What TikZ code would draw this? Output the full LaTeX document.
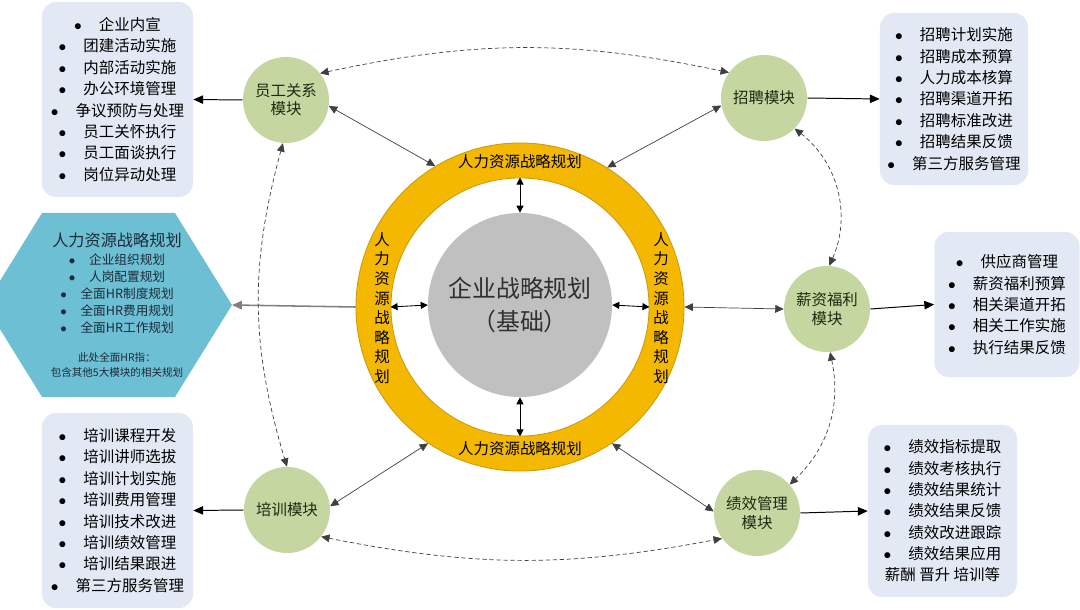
\documentclass[tikz,border=0pt]{standalone}
\usepackage{fontspec}
\setmainfont{Noto Sans CJK SC}
\usetikzlibrary{arrows.meta, positioning}

\definecolor{ringyellow}{HTML}{F5B800}
\definecolor{ringedge}{HTML}{C99A10}
\definecolor{coregray}{HTML}{C0C0C0}
\definecolor{coretext}{HTML}{303030}
\definecolor{modgreen}{HTML}{C6D6A1}
\definecolor{modtext}{HTML}{1E2A10}
\definecolor{boxblue}{HTML}{E3E9F4}
\definecolor{hexblue}{HTML}{6DBFD3}
\definecolor{hextext}{HTML}{1C2B38}
\definecolor{linegray}{HTML}{404040}
\definecolor{hexline}{HTML}{808080}

\newcommand{\itm}{\makebox[1.6em][l]{$\bullet$}}

\tikzset{
    modnode/.style={circle, fill=modgreen, minimum size=2.15cm, inner sep=0pt,
        align=center, text=modtext, font=\fontsize{11}{13}\selectfont},
    listbox/.style={rounded corners=0.35cm, fill=boxblue, inner sep=0pt,
        align=center, font=\fontsize{11}{15.2}\selectfont},
    ringlabel/.style={align=center, inner sep=0pt, font=\fontsize{11}{13.9}\selectfont},
    ringconn/.style={{Triangle[length=6pt,width=5.5pt]}-{Triangle[length=6pt,width=5.5pt]},
        draw=linegray, line width=0.5pt},
    innerconn/.style={{Triangle[length=5pt,width=5pt]}-{Triangle[length=5pt,width=5pt]},
        line width=0.6pt},
    boxconn/.style={-{Triangle[length=7pt,width=6pt]}, line width=0.7pt},
    dashconn/.style={{Triangle[length=6pt,width=5.5pt]}-{Triangle[length=6pt,width=5.5pt]},
        draw=linegray, dash pattern=on 3pt off 2pt, line width=0.5pt},
}

\begin{document}
\begin{tikzpicture}[x=0.025cm, y=-0.025cm]
    \useasboundingbox (0,0) rectangle (1080,610);

    % centre: ring and core
    \node[circle, fill=ringyellow, draw=ringedge, line width=0.6pt, minimum size=8.2cm] (ring) at (520,307) {};
    \node[circle, fill=white, draw=ringedge, line width=0.6pt, minimum size=6.45cm] (hole) at (520,307) {};
    \node[circle, fill=coregray, minimum size=4.6cm, align=center, text=coretext,
          font=\fontsize{17}{22.8}\selectfont] (core) at (520,305) {企业战略规划\\（基础）};
    \node[ringlabel] (ringN) at (520,162) {人力资源战略规划};
    \node[ringlabel] (ringS) at (520,449) {人力资源战略规划};
    \node[ringlabel] (ringW) at (382,308) {人\\力\\资\\源\\战\\略\\规\\划};
    \node[ringlabel] (ringE) at (661,308) {人\\力\\资\\源\\战\\略\\规\\划};

    \draw[innerconn] (hole.north) -- (core.north);
    \draw[innerconn] (hole.south) -- (core.south);
    \draw[innerconn] (hole.west) -- (core.west);
    \draw[innerconn] (hole.east) -- (core.east);

    % modules
    \node[modnode] (emp) at (286,100) {员工关系\\模块};
    \node[modnode] (recr) at (764,98) {招聘模块};
    \node[modnode] (sal) at (827,309) {薪资福利\\模块};
    \node[modnode] (train) at (287,510) {培训模块};
    \node[modnode] (perf) at (757,513) {绩效管理\\模块};

    % hexagon
    \fill[hexblue] (-15,305) -- (42,213) -- (175,213) -- (232,305) -- (175,397) -- (42,397) -- cycle;
    \coordinate (hexE) at (232,305);
    \node[text=hextext, font=\fontsize{11.5}{13}\selectfont] (hexTitle) at (117,240) {人力资源战略规划};
    \node[text=hextext, align=center, font=\fontsize{9}{12.1}\selectfont] (hexList) at (117,294)
        {\itm 企业组织规划\\\itm 人岗配置规划\\\itm 全面HR制度规划\\\itm 全面HR费用规划\\\itm 全面HR工作规划};
    \node[text=hextext, align=center, font=\fontsize{7.5}{10.7}\selectfont] (hexNote) at (117,364.5)
        {此处全面HR指：\\包含其他5大模块的相关规划};

    % item boxes
    \node[listbox, minimum width=3.775cm, minimum height=4.875cm] (empBox) at (117.5,99.5)
        {\itm 企业内宣\\\itm 团建活动实施\\\itm 内部活动实施\\\itm 办公环境管理\\\itm 争议预防与处理\\\itm 员工关怀执行\\\itm 员工面谈执行\\\itm 岗位异动处理};
    \node[listbox, minimum width=3.775cm, minimum height=4.875cm] (trainBox) at (117.5,510.5)
        {\itm 培训课程开发\\\itm 培训讲师选拔\\\itm 培训计划实施\\\itm 培训费用管理\\\itm 培训技术改进\\\itm 培训绩效管理\\\itm 培训结果跟进\\\itm 第三方服务管理};
    \node[listbox, minimum width=3.7cm, minimum height=4.3cm] (recrBox) at (954,99)
        {\itm 招聘计划实施\\\itm 招聘成本预算\\\itm 人力成本核算\\\itm 招聘渠道开拓\\\itm 招聘标准改进\\\itm 招聘结果反馈\\\itm 第三方服务管理};
    \node[listbox, minimum width=3.625cm, minimum height=3.625cm] (salBox) at (1007,304.5)
        {\itm 供应商管理\\\itm 薪资福利预算\\\itm 相关渠道开拓\\\itm 相关工作实施\\\itm 执行结果反馈};
    \node[listbox, minimum width=3.725cm, minimum height=4.3cm] (perfBox) at (942.5,511)
        {\itm 绩效指标提取\\\itm 绩效考核执行\\\itm 绩效结果统计\\\itm 绩效结果反馈\\\itm 绩效改进跟踪\\\itm 绩效结果应用\\薪酬 晋升 培训等};

    % module to box
    \draw[boxconn] (emp.west) -- (empBox.east);
    \draw[boxconn] (recr.east) -- (recrBox.west);
    \draw[boxconn] (sal.east) -- (salBox.west);
    \draw[boxconn] (train.west) -- (trainBox.east);
    \draw[boxconn] (perf.east) -- (perfBox.west);

    % ring to modules
    \draw[ringconn] (ring.121) -- (emp.-8);
    \draw[ringconn] (ring.58) -- (recr.190);
    \draw[ringconn] (ring.east) -- (sal.west);
    \draw[ringconn] (ring.236) -- (train.5);
    \draw[ringconn] (ring.-56) -- (perf.178);
    \draw[-{Triangle[length=7pt,width=6pt]}, draw=hexline, line width=1.1pt] (ring.west) -- (hexE);

    % dashed links between modules
    \draw[dashconn] (emp.38) to[bend left=12] (recr.144);
    \draw[dashconn] (recr.-45) to[bend left=38] (sal.87);
    \draw[dashconn] (sal.-86) to[bend left=29] (perf.41);
    \draw[dashconn] (train.-38) to[bend right=11] (perf.216);
    \draw[dashconn] (emp.-94) to[bend right=16] (train.north);
\end{tikzpicture}
\end{document}
